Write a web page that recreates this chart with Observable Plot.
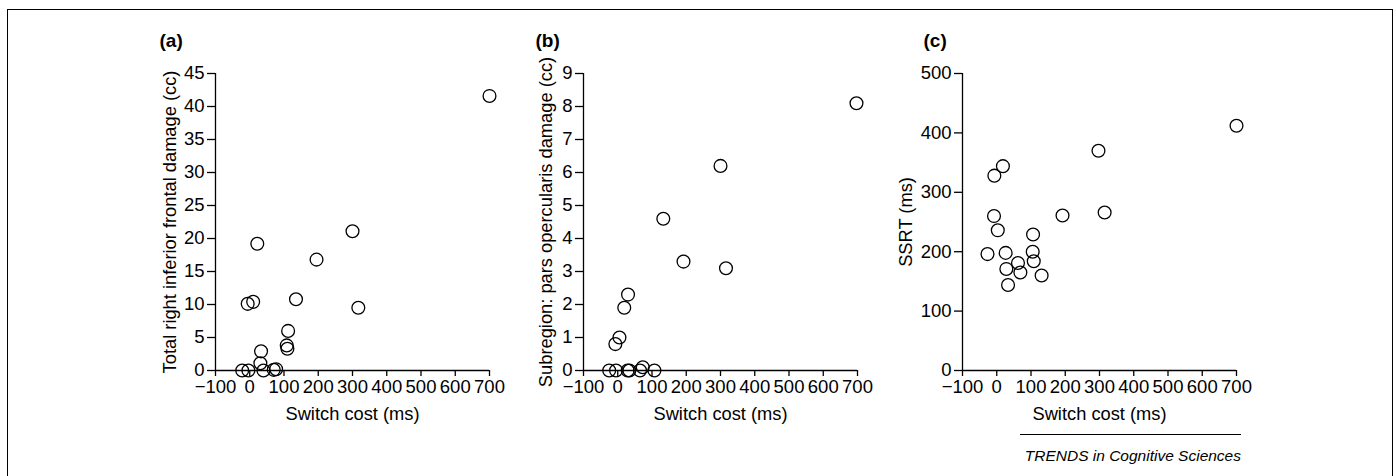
<!DOCTYPE html>
<html>
<head>
<meta charset="utf-8">
<script src="https://cdn.jsdelivr.net/npm/d3@7"></script>
<script src="https://cdn.jsdelivr.net/npm/@observablehq/plot@0.6"></script>
<style>
  body { margin: 0; background: #fff; font-family: "Liberation Sans", Arial, Helvetica, sans-serif; }
  #wrap { position: relative; width: 1396px; height: 476px; overflow: hidden; background: #fff; }
  #frame { position: absolute; left: 7px; top: 9px; width: 1386px; height: 520px; box-sizing: border-box; border: 1.6px solid #000; }
  .panel { position: absolute; top: 0; }
  .panel svg { overflow: visible; background: transparent !important; }
  .panel svg g[aria-label$="tick"] path { stroke-width: 1.3; }
  #caption { position: absolute; left: 1020px; top: 434px; width: 221px; border-top: 1.3px solid #000;
             font-style: italic; font-size: 15.5px; line-height: 18px; text-align: right; padding-top: 12px;
             white-space: nowrap; color: #000; }
</style>
</head>
<body>
<div id="wrap">
  <div id="frame"></div>
  <div id="pa" class="panel"></div>
  <div id="pb" class="panel"></div>
  <div id="pc" class="panel"></div>
  <div id="caption"></div>
</div>
<script>
// ---- Data ----
const panelLabels = ["(a)", "(b)", "(c)"];
const yTitles = [
  "Total right inferior frontal damage (cc)",
  "Subregion: pars opercularis damage (cc)",
  "SSRT (ms)"
];
const xTitle = "Switch cost (ms)";
const caption = "TRENDS in Cognitive Sciences";

const xTicks = [-100, 0, 100, 200, 300, 400, 500, 600, 700];
const yTicksA = [0, 5, 10, 15, 20, 25, 30, 35, 40, 45];
const yTicksB = [0, 1, 2, 3, 4, 5, 6, 7, 8, 9];
const yTicksC = [0, 100, 200, 300, 400, 500];

// (a) Total right inferior frontal damage (cc)
const switchCostA = [700, 22, 300, 195, 135, 317, -6, 10, 112, 108, 110, 33, 31, -22, -4, 40, 70, 77];
const damageA     = [41.6, 19.2, 21.1, 16.8, 10.8, 9.5, 10.1, 10.4, 6.0, 3.8, 3.3, 2.9, 1.1, 0, 0, 0, 0.1, 0.2];

// (b) Subregion: pars opercularis damage (cc)
const switchCostB = [697, 300, 133, 192, 316, 30, 19, 5, -7, -25, -5, 29, 34, 65, 73, 107];
const damageB     = [8.1, 6.2, 4.6, 3.3, 3.1, 2.3, 1.9, 1.0, 0.8, 0, 0, 0, 0, 0, 0.1, 0];

// (c) SSRT (ms)
const switchCostC = [700, 297, 315, 192, 18, -7, -8, 3, -27, 26, 28, 33, 62, 69, 106, 105, 108, 131];
const ssrtC       = [412, 370, 266, 261, 344, 328, 260, 236, 196, 198, 171, 144, 181, 165, 229, 200, 184, 160];

// ---- Layout ----
const fontFamily = '"Liberation Sans", Arial, Helvetica, sans-serif';
const mL = 75, mR = 15, mT = 73, mB = 70;
const W = mL + 274 + mR, H = mT + 297 + mB;
const fmt = d3.format("d");

function panel(el, left, xs, ys, yTicks, label, yTitle, labelDx, titleDx) {
  const data = xs.map((x, i) => ({x, y: ys[i]}));
  const ymax = yTicks[yTicks.length - 1];
  const svg = Plot.plot({
    width: W, height: H,
    marginLeft: mL, marginRight: mR, marginTop: mT, marginBottom: mB,
    style: {fontFamily, fontSize: "18.5px", color: "#000", background: "transparent", overflow: "visible"},
    x: {domain: [-100, 700], ticks: xTicks, tickSize: 6, tickPadding: 3, tickFormat: fmt, label: null},
    y: {domain: [0, ymax], ticks: yTicks, tickSize: 8, tickPadding: 3, tickFormat: fmt, label: null},
    marks: [
      Plot.ruleX([-100], {y1: 0, y2: ymax, stroke: "#000", strokeWidth: 1.3}),
      Plot.ruleY([0], {x1: -100, x2: 700, stroke: "#000", strokeWidth: 1.3}),
      Plot.dot(data, {x: "x", y: "y", r: 6.4, stroke: "#000", strokeWidth: 1.3, fill: "none"}),
      Plot.text([label], {text: d => d, frameAnchor: "top-left", textAnchor: "start", lineAnchor: "middle",
                          dx: labelDx, dy: -33, fontWeight: "bold", fontSize: 19, fill: "#000"}),
      Plot.text([yTitle], {text: d => d, frameAnchor: "left", textAnchor: "middle", lineAnchor: "middle",
                           rotate: -90, dx: titleDx, fontSize: 18.3, fill: "#000"}),
      Plot.text([xTitle], {text: d => d, frameAnchor: "bottom", textAnchor: "middle", lineAnchor: "middle",
                           dy: 44, fontSize: 18.3, fill: "#000"})
    ]
  });
  const host = document.getElementById(el);
  host.style.left = left + "px";
  host.appendChild(svg);
}

panel("pa", 215 - mL, switchCostA, damageA, yTicksA, panelLabels[0], yTitles[0], -56, -45);
panel("pb", 583 - mL, switchCostB, damageB, yTicksB, panelLabels[1], yTitles[1], -48, -37);
panel("pc", 962 - mL, switchCostC, ssrtC, yTicksC, panelLabels[2], yTitles[2], -39, -56);

document.getElementById("caption").textContent = caption;
</script>
</body>
</html>
